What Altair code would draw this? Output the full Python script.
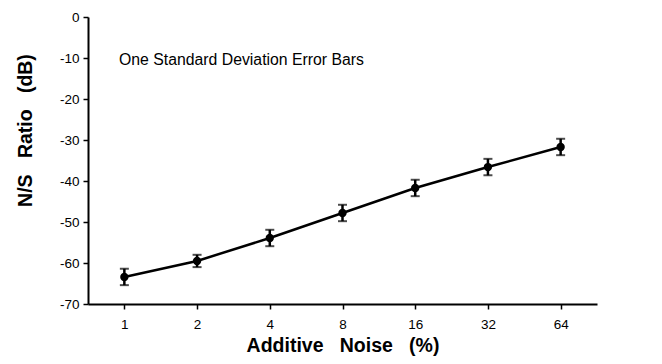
import altair as alt
import pandas as pd

noise = ["1", "2", "4", "8", "16", "32", "64"]
ns_ratio = [-63.4, -59.5, -53.9, -47.8, -41.7, -36.6, -31.7]
sd = [2.0, 1.5, 2.0, 2.0, 2.0, 2.0, 2.0]

df = pd.DataFrame({"noise": noise, "ratio": ns_ratio, "sd": sd})
df["lo"] = df["ratio"] - df["sd"]
df["hi"] = df["ratio"] + df["sd"]

FONT = "Liberation Sans"
NB = "\u00a0"

x = alt.X("noise:O", sort=noise,
          scale=alt.Scale(type="point", padding=0.5),
          axis=alt.Axis(title=f"Additive{NB}{NB}{NB}Noise{NB}{NB}{NB}(%)", labelAngle=0,
                        labelFontSize=13.5, labelPadding=8, tickSize=5,
                        titleFontSize=19.5, titleFontWeight="bold",
                        titlePadding=6, labelFont=FONT, titleFont=FONT))
y_scale = alt.Scale(domain=[-70, 0], nice=False)
y = alt.Y("ratio:Q", scale=y_scale,
          axis=alt.Axis(title=f"N/S{NB}{NB}{NB}Ratio{NB}{NB}{NB}(dB)",
                        values=list(range(-70, 1, 5)),
                        labelExpr="datum.value % 10 == 0 ? toString(datum.value) : ''",
                        labelFontSize=13.5, tickSize=5, labelPadding=4,
                        titleFontSize=19.5, titleFontWeight="bold",
                        titleX=-63, titleY=113, titleBaseline="middle",
                        labelFont=FONT, titleFont=FONT))

base = alt.Chart(df)
line = base.mark_line(color="black", strokeWidth=2.5).encode(x=x, y=y)
err = base.mark_rule(color="black", strokeWidth=2.5).encode(
    x=x, y=alt.Y("lo:Q", scale=y_scale), y2="hi:Q")
cap_lo = base.mark_tick(color="black", thickness=2, size=9).encode(
    x=x, y=alt.Y("lo:Q", scale=y_scale))
cap_hi = base.mark_tick(color="black", thickness=2, size=9).encode(
    x=x, y=alt.Y("hi:Q", scale=y_scale))
pts = base.mark_circle(color="black", size=70, opacity=1).encode(x=x, y=y)

note = alt.Chart(pd.DataFrame({"t": ["One Standard Deviation Error Bars"], "v": [-10.5]})).mark_text(
    align="left", baseline="middle", fontSize=15.8, font=FONT, color="black"
).encode(x=alt.value(31), y=alt.Y("v:Q", scale=y_scale), text="t:N")

chart = alt.layer(line, err, cap_lo, cap_hi, pts, note).properties(
    width=509, height=287,
    autosize=alt.AutoSizeParams(type="none"),
    padding={"left": 88, "top": 17, "right": 65, "bottom": 60},
).configure_view(stroke=None).configure_axis(
    domainColor="black", domainWidth=2, tickColor="black", tickWidth=1.5,
    labelColor="black", titleColor="black", grid=False
)

chart.save("out.html", embed_options={"renderer": "svg", "actions": False})
